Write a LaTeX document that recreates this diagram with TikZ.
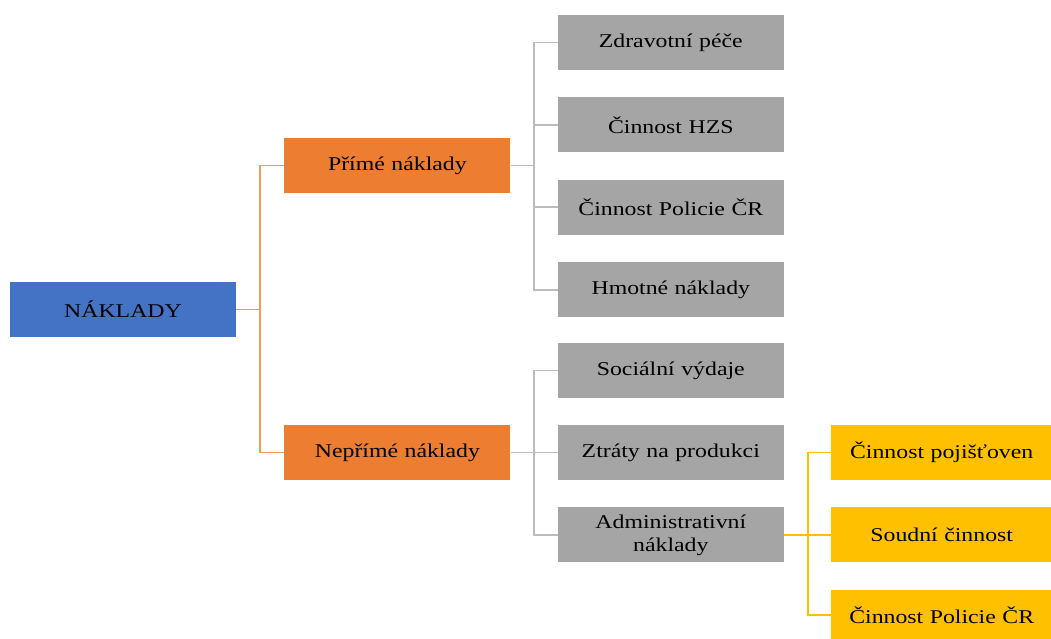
\documentclass[tikz,border=0pt]{standalone}
\usepackage{fontspec}
\setmainfont[FakeStretch=1.22]{Liberation Serif}
\usepackage{tikz}
\usetikzlibrary{positioning,calc}
\definecolor{costblue}{HTML}{4472C4}
\definecolor{costorange}{HTML}{ED7D31}
\definecolor{costgray}{HTML}{A5A5A5}
\definecolor{costyellow}{HTML}{FFC000}
\definecolor{costorangeline}{HTML}{F29A5A}
\definecolor{costgrayline}{HTML}{BCBCBC}
\tikzstyle{box} = [rectangle, inner sep=0pt, minimum width=226pt, minimum height=55pt,
    text width=215pt, align=center, font=\fontsize{19.5}{23}\selectfont]
\tikzstyle{rootbox} = [box, fill=costblue]
\tikzstyle{mainbox} = [box, fill=costorange]
\tikzstyle{itembox} = [box, fill=costgray]
\tikzstyle{subbox} = [box, fill=costyellow, minimum width=221pt]
\tikzstyle{orangeline} = [line width=1.8pt, costorangeline]
\tikzstyle{grayline} = [line width=1.8pt, costgrayline]
\tikzstyle{yellowline} = [line width=1.8pt, costyellow]

\begin{document}
\begin{tikzpicture}[x=1pt, y=1pt, node distance=27pt]
\useasboundingbox (-123,-329.5) rectangle (928,309.5);
\node[rootbox] (naklady) at (0,0) {NÁKLADY};
\node[mainbox, right=48pt of naklady, yshift=144pt] (prime) {Přímé náklady};
\node[mainbox, right=48pt of naklady, yshift=-143pt] (neprime) {Nepřímé náklady};

\node[itembox, right=47pt of prime, yshift=123pt] (zdravotni) {Zdravotní péče};
\node[itembox, below=of zdravotni] (hzs) {Činnost HZS};
\node[itembox, below=of hzs] (policie) {Činnost Policie ČR};
\node[itembox, below=of policie] (hmotne) {Hmotné náklady};

\node[itembox, right=47pt of neprime, yshift=82pt] (socialni) {Sociální výdaje};
\node[itembox, right=47pt of neprime] (ztraty) {Ztráty na produkci};
\node[itembox, below=of ztraty] (admin) {Administrativní\\náklady};

\node[subbox, right=47pt of ztraty] (pojistoven) {Činnost pojišťoven};
\node[subbox, right=47pt of admin] (soudni) {Soudní činnost};
\node[subbox, below=of soudni, minimum height=50pt] (policiesub) {Činnost Policie ČR};

\draw[orangeline] (naklady.east) -- ++(24,0) |- (prime.west);
\draw[orangeline] (naklady.east) -- ++(24,0) |- (neprime.west);

\foreach \item in {zdravotni,hzs,policie,hmotne}
  \draw[grayline] (prime.east) -- ++(23,0) |- (\item.west);
\foreach \item in {socialni,ztraty,admin}
  \draw[grayline] (neprime.east) -- ++(23,0) |- (\item.west);
\foreach \item in {pojistoven,soudni,policiesub}
  \draw[yellowline] (admin.east) -- ++(24,0) |- (\item.west);
\end{tikzpicture}
\end{document}
